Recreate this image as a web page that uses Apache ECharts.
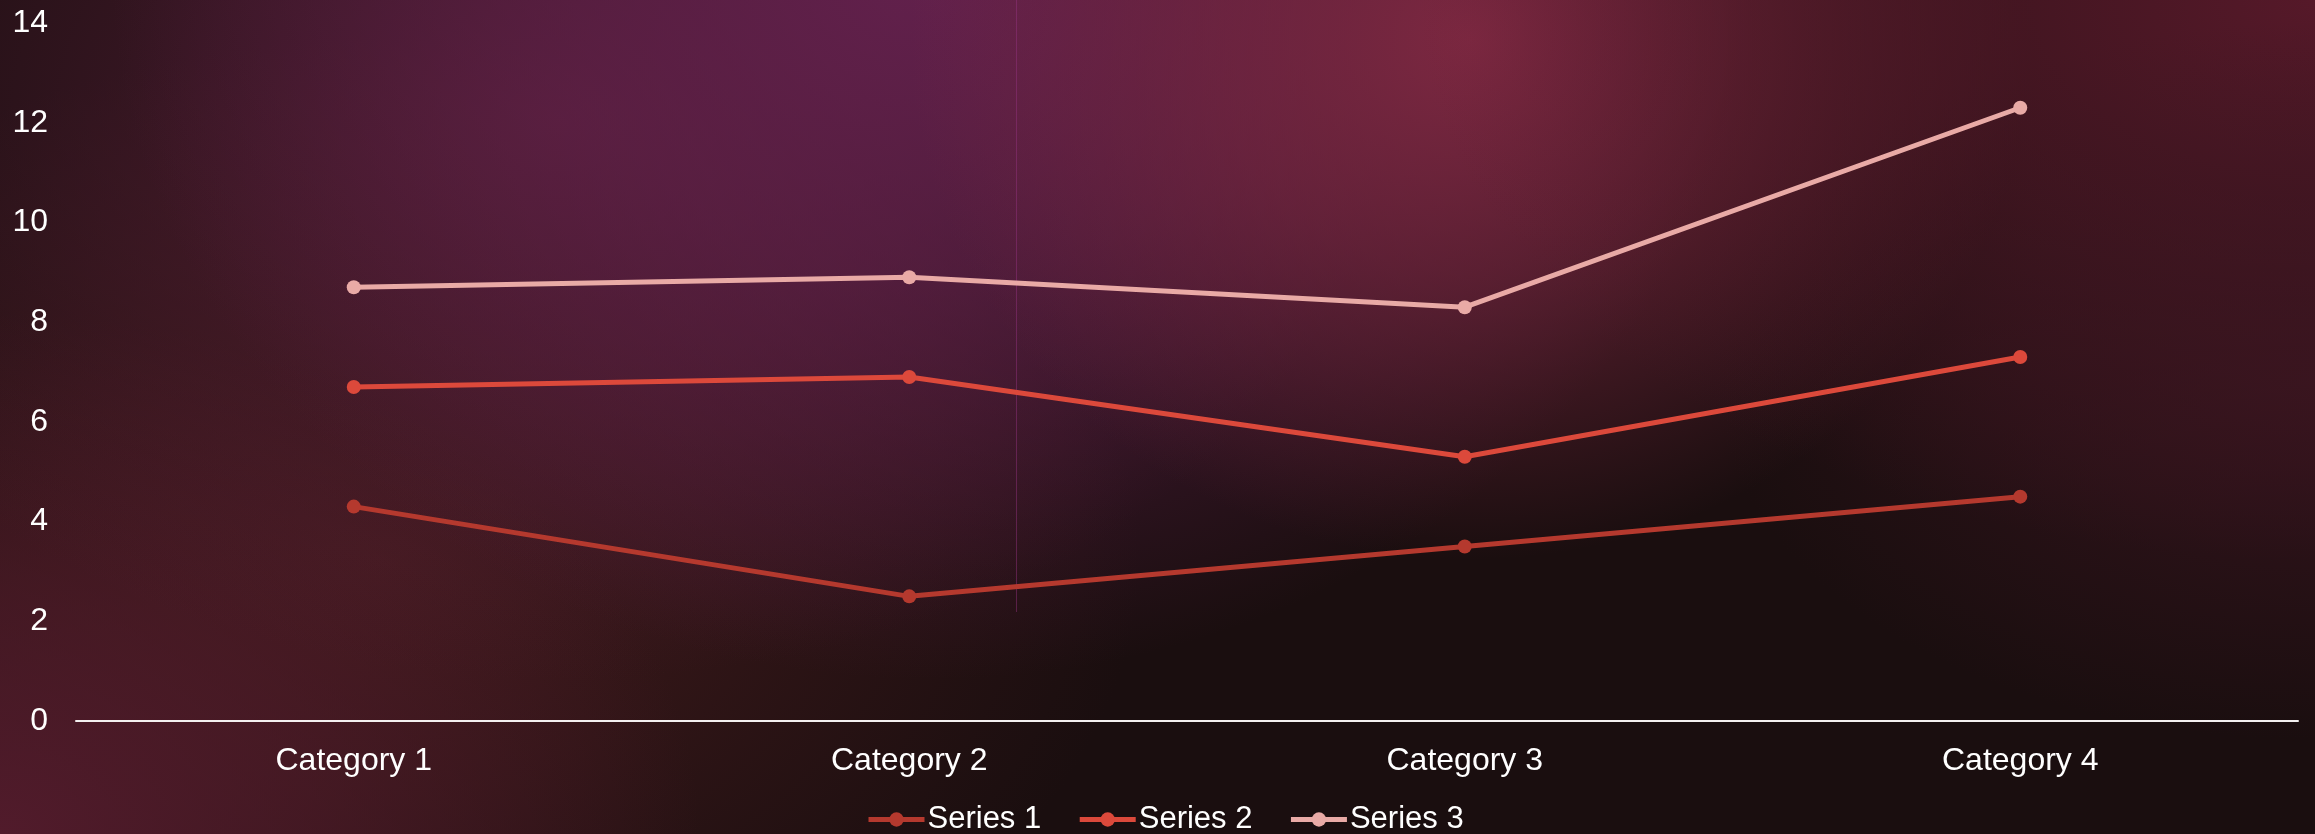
<!DOCTYPE html>
<html>
<head>
<meta charset="utf-8">
<title>Stacked line chart</title>
<script src="https://cdn.jsdelivr.net/npm/echarts@6/dist/echarts.min.js"></script>
<style>
  html, body { margin: 0; padding: 0; background: #1a0e0f; }
  #chart { width: 2315px; height: 834px; }
</style>
</head>
<body>
<div id="chart"></div>
<script>
// Chart data
const categories = ['Category 1', 'Category 2', 'Category 3', 'Category 4'];
const series1 = [4.3, 2.5, 3.5, 4.5];
const series2 = [2.4, 4.4, 1.8, 2.8];
const series3 = [2, 2, 3, 5];
const seriesNames = ['Series 1', 'Series 2', 'Series 3'];
const yTicks = [0, 2, 4, 6, 8, 10, 12, 14];

const seriesColors = ['#b5392e', '#dc493b', '#e9aaa6'];
const FONT = '"Liberation Sans", Arial, sans-serif';

// Soft coloured glow: a square with a radial fade, stretched into an ellipse
function glow(cx, cy, rx, ry, rgb, a) {
  const r = 100;
  return {
    type: 'rect',
    x: cx, y: cy,
    scaleX: rx / r, scaleY: ry / r,
    shape: { x: -r, y: -r, width: 2 * r, height: 2 * r },
    style: {
      fill: {
        type: 'radial', x: 0.5, y: 0.5, r: 0.5,
        colorStops: [
          { offset: 0, color: `rgba(${rgb},${a})` },
          { offset: 0.45, color: `rgba(${rgb},${a * 0.6})` },
          { offset: 1, color: `rgba(${rgb},0)` }
        ]
      }
    },
    silent: true,
    z: -100
  };
}

const backdrop = [
  { type: 'rect', shape: { x: 0, y: 0, width: 2315, height: 834 },
    style: { fill: '#1a0e0f' }, silent: true, z: -100 },
  glow(380, 560, 760, 520, '64,26,28', 0.95),
  glow(0, 834, 700, 520, '86,28,46', 0.9),
  glow(560, 120, 820, 560, '84,30,54', 0.85),
  glow(930, -40, 820, 720, '104,34,82', 0.9),
  glow(1470, 40, 560, 520, '132,42,68', 0.9),
  glow(2315, 0, 900, 560, '92,26,44', 0.9),
  glow(2315, 380, 600, 360, '62,22,34', 0.7),
  { type: 'line', shape: { x1: 1016.5, y1: 0, x2: 1016.5, y2: 612 },
    style: { stroke: 'rgba(150,50,130,0.45)', lineWidth: 1 }, silent: true, z: -90 }
];

const values = [series1, series2, series3];

const chart = echarts.init(document.getElementById('chart'), null, { renderer: 'canvas' });
chart.setOption({
  backgroundColor: 'transparent',
  animation: false,
  graphic: { elements: backdrop },
  grid: { left: 76, right: 17, top: 23, bottom: 113, containLabel: false },
  legend: {
    data: seriesNames,
    left: 861,
    top: 799,
    itemWidth: 56,
    itemHeight: 18,
    itemGap: 36,
    lineStyle: { width: 5 },
    textStyle: { color: '#ffffff', fontSize: 31, fontFamily: FONT, padding: [0, 0, 0, -2] }
  },
  xAxis: {
    type: 'category',
    data: categories,
    boundaryGap: true,
    axisLine: { show: true, lineStyle: { color: '#f4f0f0', width: 2 } },
    axisTick: { show: false },
    splitLine: { show: false },
    axisLabel: { color: '#ffffff', fontSize: 32, fontFamily: FONT, margin: 24 }
  },
  yAxis: {
    type: 'value',
    min: yTicks[0],
    max: yTicks[yTicks.length - 1],
    interval: 2,
    axisLine: { show: false },
    axisTick: { show: false },
    splitLine: { show: false },
    axisLabel: { color: '#ffffff', fontSize: 32, fontFamily: FONT, margin: 28 }
  },
  series: seriesNames.map((name, i) => ({
    name,
    type: 'line',
    stack: 'total',
    data: values[i],
    symbol: 'circle',
    symbolSize: 14,
    lineStyle: { color: seriesColors[i], width: 5 },
    itemStyle: { color: seriesColors[i] },
    z: 3
  }))
});
</script>
</body>
</html>
